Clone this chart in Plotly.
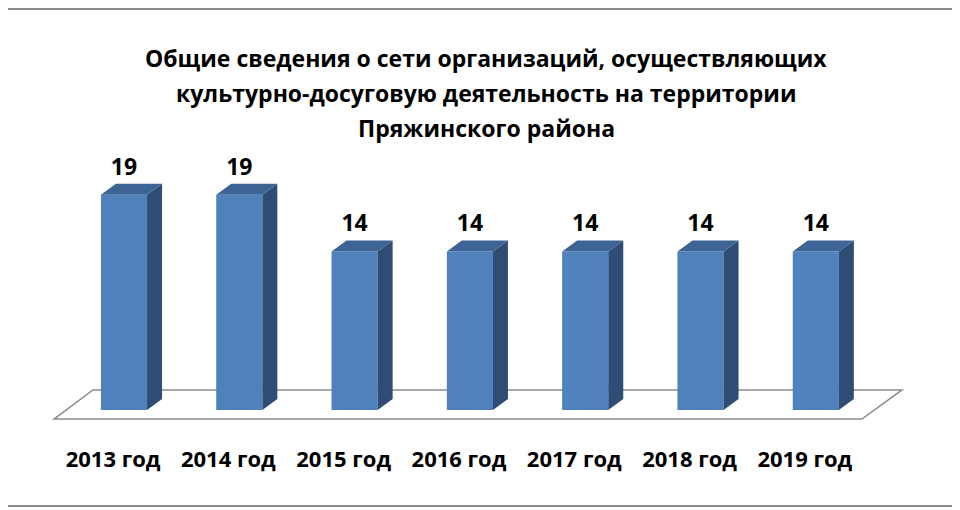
import plotly.graph_objects as go

# data
years = ["2013 год", "2014 год", "2015 год", "2016 год", "2017 год", "2018 год", "2019 год"]
counts = [19, 19, 14, 14, 14, 14, 14]
title_lines = ["Общие сведения о сети организаций, осуществляющих",
               "культурно-досуговую деятельность на территории",
               "Пряжинского района"]

# colours of the fake 3d bars
front_col = "#4F81BD"
top_col = "#3D6494"
side_col = "#2E4C74"

bar_w = 0.4
dx, dy = 0.13, 0.97   # depth offset in axis units
font_name = "Open Sans"
W, H = 960, 510
off = 8  # the page body adds an 8px margin, so shift paper positions

xs = list(range(len(years)))

fig = go.Figure()

# front faces
fig.add_trace(go.Bar(x=xs, y=counts, width=bar_w,
                     marker=dict(color=front_col, line=dict(width=0)),
                     hoverinfo="skip"))

# side and top faces
for i, v in zip(xs, counts):
    l, r = i - bar_w / 2, i + bar_w / 2
    fig.add_trace(go.Scatter(x=[r, r + dx, r + dx, r, r], y=[0, dy, v + dy, v, 0],
                             fill="toself", fillcolor=side_col, mode="none",
                             hoverinfo="skip"))
    fig.add_trace(go.Scatter(x=[l, l + dx, r + dx, r, l], y=[v, v + dy, v + dy, v, v],
                             fill="toself", fillcolor=top_col, mode="none",
                             hoverinfo="skip"))

# value labels
fig.add_trace(go.Scatter(x=xs, y=[v + dy + 1.3 for v in counts], mode="text",
                         text=[str(v) for v in counts], textposition="middle center",
                         textfont=dict(family=font_name, size=23, color="black", weight="bold"),
                         hoverinfo="skip"))

# category labels
fig.add_trace(go.Scatter(x=[i - 0.095 for i in xs], y=[-4.5] * len(xs), mode="text",
                         text=years, textposition="middle center",
                         textfont=dict(family=font_name, size=22, color="black", weight="bold"),
                         hoverinfo="skip"))

# floor of the 3d chart
floor = "M -0.607 -0.8 L 6.40 -0.8 L 6.748 1.77 L -0.269 1.77 Z"
fig.add_shape(type="path", path=floor, xref="x", yref="y", layer="below",
              line=dict(color="#8C8C8C", width=1.5), fillcolor="white")

# frame lines top and bottom
for py in [off + 1, 506]:
    fig.add_shape(type="line", xref="paper", yref="paper", x0=0, x1=1,
                  y0=1 - (py - off) / H, y1=1 - (py - off) / H,
                  line=dict(color="#8A8A8A", width=2))

for line, py in zip(title_lines, [58, 93, 128]):
    fig.add_annotation(text=line, xref="paper", yref="paper",
                       x=(486 - off) / W, y=1 - (py - off) / H,
                       xanchor="center", yanchor="middle", showarrow=False,
                       font=dict(family=font_name, size=23, color="black", weight="bold"))

fig.update_layout(width=W, height=H, margin=dict(l=0, r=0, t=0, b=0),
                  plot_bgcolor="white", paper_bgcolor="white", showlegend=False,
                  xaxis=dict(range=[-1.006, 7.32], visible=False, fixedrange=True),
                  yaxis=dict(range=[-9.53, 35.48], visible=False, fixedrange=True))

fig.write_html("out.html")
